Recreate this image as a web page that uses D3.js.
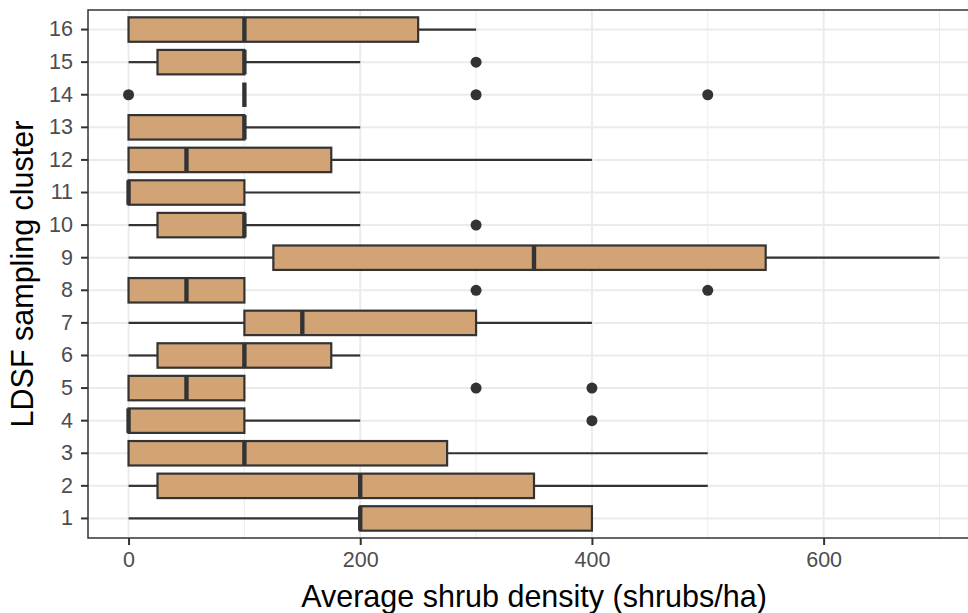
<!DOCTYPE html>
<html>
<head>
<meta charset="utf-8">
<script src="https://cdn.jsdelivr.net/npm/d3@7"></script>
<style>
  body { margin: 0; background: #fff; }
  svg { display: block; font-family: "Liberation Sans", Arial, sans-serif; }
</style>
</head>
<body>
<script>
"use strict";

///////////////////
// data
///////////////////
var clusters = ["1","2","3","4","5","6","7","8","9","10","11","12","13","14","15","16"];
// five-number summary per cluster (whisker low, Q1, median, Q3, whisker high)
var whiskerLow = [0, 0, 0, 0, 0, 0, 0, 0, 0, 0, 0, 0, 0, 100, 0, 0];
var q1         = [200, 25, 0, 0, 0, 25, 100, 0, 125, 25, 0, 0, 0, 100, 25, 0];
var medians    = [200, 200, 100, 0, 50, 100, 150, 50, 350, 100, 0, 50, 100, 100, 100, 100];
var q3         = [400, 350, 275, 100, 100, 175, 300, 100, 550, 100, 100, 175, 100, 100, 100, 250];
var whiskerHigh= [400, 500, 500, 200, 100, 200, 400, 100, 700, 200, 200, 400, 200, 100, 200, 300];
var outliers = [
    [], [], [], [400], [300, 400], [], [], [300, 500], [], [300], [], [], [], [0, 300, 500], [300], []
];
var xTicks = [0, 200, 400, 600];
var xMinor = [100, 300, 500, 700];

///////////////////
// layout
///////////////////
var W = 968, H = 613;
var margin = { left: 88, top: 10, bottom: 538 };
var panelRight = 980; // panel runs past the window edge

var svg = d3.select("body").append("svg")
    .attr("width", W)
    .attr("height", H);

var x = d3.scaleLinear().domain([-35, 735]).range([margin.left, panelRight]);
var y = d3.scaleBand()
    .domain(clusters.slice().reverse())
    .range([margin.top, margin.bottom])
    .paddingInner(0)
    .paddingOuter(0.1);
var step = y.step();
var bw = step * 0.75;
function yc(c) { return y(c) + y.bandwidth() / 2; }

var rows = clusters.map(function(c, i) {
    return {
        cluster: c,
        lo: whiskerLow[i], q1: q1[i], med: medians[i], q3: q3[i], hi: whiskerHigh[i],
        out: outliers[i]
    };
});

// grid
var grid = svg.append("g");
grid.selectAll("line.minor").data(xMinor).enter().append("line")
    .attr("x1", x).attr("x2", x)
    .attr("y1", margin.top).attr("y2", margin.bottom)
    .style("stroke", "#EBEBEB").style("stroke-width", 1);
grid.selectAll("line.major").data(xTicks).enter().append("line")
    .attr("x1", x).attr("x2", x)
    .attr("y1", margin.top).attr("y2", margin.bottom)
    .style("stroke", "#EBEBEB").style("stroke-width", 2);
grid.selectAll("line.hmajor").data(clusters).enter().append("line")
    .attr("x1", margin.left).attr("x2", panelRight)
    .attr("y1", yc).attr("y2", yc)
    .style("stroke", "#EBEBEB").style("stroke-width", 2);

// boxes
var stroke = "#333333";
var g = svg.selectAll("g.box").data(rows).enter().append("g").attr("class", "box");

g.append("line") // lower whisker
    .attr("x1", function(d) { return x(d.lo); })
    .attr("x2", function(d) { return x(d.q1); })
    .attr("y1", function(d) { return yc(d.cluster); })
    .attr("y2", function(d) { return yc(d.cluster); })
    .style("stroke", stroke).style("stroke-width", 2.2);
g.append("line") // upper whisker
    .attr("x1", function(d) { return x(d.q3); })
    .attr("x2", function(d) { return x(d.hi); })
    .attr("y1", function(d) { return yc(d.cluster); })
    .attr("y2", function(d) { return yc(d.cluster); })
    .style("stroke", stroke).style("stroke-width", 2.2);
g.filter(function(d) { return d.q3 > d.q1; }).append("rect")
    .attr("x", function(d) { return x(d.q1); })
    .attr("width", function(d) { return x(d.q3) - x(d.q1); })
    .attr("y", function(d) { return yc(d.cluster) - bw / 2; })
    .attr("height", bw)
    .style("fill", "#D2A374")
    .style("stroke", stroke).style("stroke-width", 2.2);
g.append("line") // median
    .attr("x1", function(d) { return x(d.med); })
    .attr("x2", function(d) { return x(d.med); })
    .attr("y1", function(d) { return yc(d.cluster) - bw / 2; })
    .attr("y2", function(d) { return yc(d.cluster) + bw / 2; })
    .style("stroke", stroke).style("stroke-width", 4.4);

g.selectAll("circle").data(function(d) {
        return d.out.map(function(v) { return { v: v, c: d.cluster }; });
    }).enter().append("circle")
    .attr("cx", function(d) { return x(d.v); })
    .attr("cy", function(d) { return yc(d.c); })
    .attr("r", 5.5)
    .style("fill", stroke);

// panel border
svg.append("rect")
    .attr("x", margin.left).attr("y", margin.top)
    .attr("width", panelRight - margin.left)
    .attr("height", margin.bottom - margin.top)
    .style("fill", "none").style("stroke", stroke).style("stroke-width", 1.5);

// axes
var xAxis = svg.append("g")
    .attr("transform", "translate(0," + margin.bottom + ")")
    .call(d3.axisBottom(x).tickValues(xTicks).tickSize(7).tickPadding(7));
var yAxis = svg.append("g")
    .attr("transform", "translate(" + margin.left + ",0)")
    .call(d3.axisLeft(y).tickSize(7).tickPadding(8));
[xAxis, yAxis].forEach(function(a) {
    a.select(".domain").remove();
    a.selectAll(".tick line").style("stroke", stroke).style("stroke-width", 2);
    a.selectAll(".tick text")
        .style("fill", "#4D4D4D")
        .style("font-size", "21.5px")
        .style("font-family", "Liberation Sans, Arial, sans-serif");
});

// titles
svg.append("text")
    .attr("x", (margin.left + panelRight) / 2)
    .attr("y", 607)
    .attr("text-anchor", "middle")
    .style("font-size", "30.5px")
    .style("fill", "#000")
    .text("Average shrub density (shrubs/ha)");
svg.append("text")
    .attr("transform", "translate(33," + ((margin.top + margin.bottom) / 2) + ") rotate(-90)")
    .attr("text-anchor", "middle")
    .style("font-size", "30.5px")
    .style("fill", "#000")
    .text("LDSF sampling cluster");
</script>
</body>
</html>
